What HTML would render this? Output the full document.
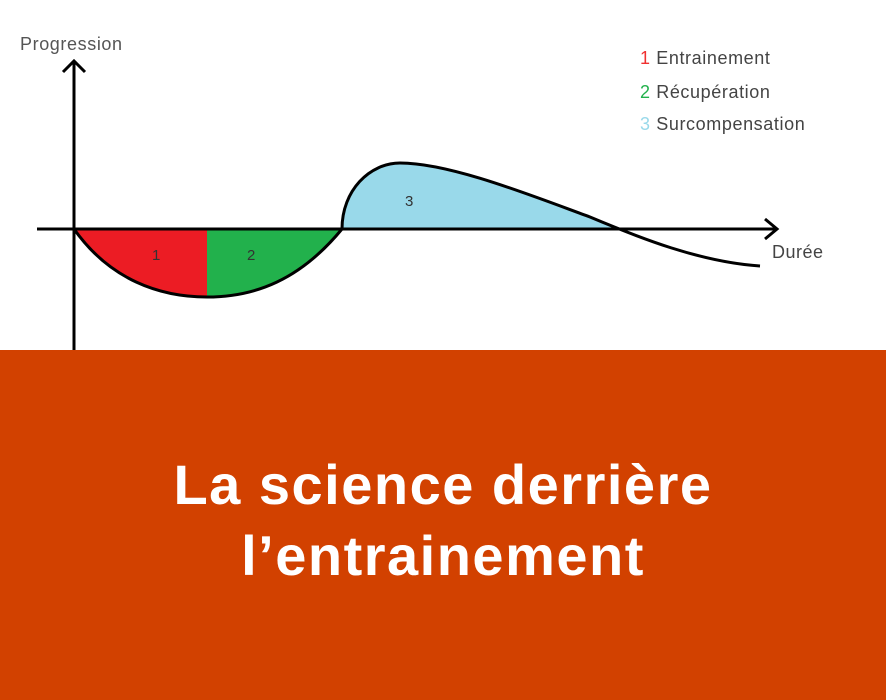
<!DOCTYPE html>
<html><head><meta charset="utf-8"><style>
html,body{margin:0;padding:0;width:886px;height:700px;overflow:hidden;background:#fff}
svg{position:absolute;left:0;top:0}
.box{position:absolute;left:0;top:350px;width:886px;height:350px;background:#d24100;color:#fff;font-family:"Liberation Sans",sans-serif;font-weight:bold;font-size:56px;letter-spacing:1.5px;text-align:center;line-height:71px;box-sizing:border-box;padding-top:99px}
</style></head><body>
<svg width="886" height="350" viewBox="0 0 886 350" font-family="Liberation Sans, sans-serif">
<path d="M74,229 C110,280 160,297 207,297 L207,229 Z" fill="#ec1c24"/>
<path d="M207,229 L207,297 C255,297 300,280 342,229 Z" fill="#22b14c"/>
<path d="M342,229 C342,190 370,163 400,163 C450,163 530,195 590,217 L620,229 Z" fill="#99d9ea"/>
<path d="M74,229 C110,280 160,297 207,297 C255,297 300,280 342,229 C342,190 370,163 400,163 C450,163 530,195 590,217 C640,238 700,262 760,266" fill="none" stroke="#000" stroke-width="3"/>
<line x1="37" y1="229" x2="776" y2="229" stroke="#000" stroke-width="3"/>
<polyline points="765,219 777,229 765,239" fill="none" stroke="#000" stroke-width="3"/>
<line x1="74" y1="350" x2="74" y2="62" stroke="#000" stroke-width="3"/>
<polyline points="63,72 74,61 85,72" fill="none" stroke="#000" stroke-width="3"/>
<text x="20" y="50" font-size="18" letter-spacing="0.6" fill="#555">Progression</text>
<text x="772" y="258" font-size="18" letter-spacing="0.5" fill="#444">Durée</text>
<text x="152" y="260" font-size="15" fill="#333">1</text>
<text x="247" y="260" font-size="15" fill="#333">2</text>
<text x="405" y="206" font-size="15" fill="#333">3</text>
<text x="640" y="64" font-size="18" letter-spacing="0.6" fill="#444"><tspan fill="#f03030">1</tspan> Entrainement</text>
<text x="640" y="98" font-size="18" letter-spacing="0.6" fill="#444"><tspan fill="#22b14c">2</tspan> Récupération</text>
<text x="640" y="130" font-size="18" letter-spacing="0.6" fill="#444"><tspan fill="#99d9ea">3</tspan> Surcompensation</text>
</svg>
<div class="box">La science derrière<br>l’entrainement</div>
</body></html>
